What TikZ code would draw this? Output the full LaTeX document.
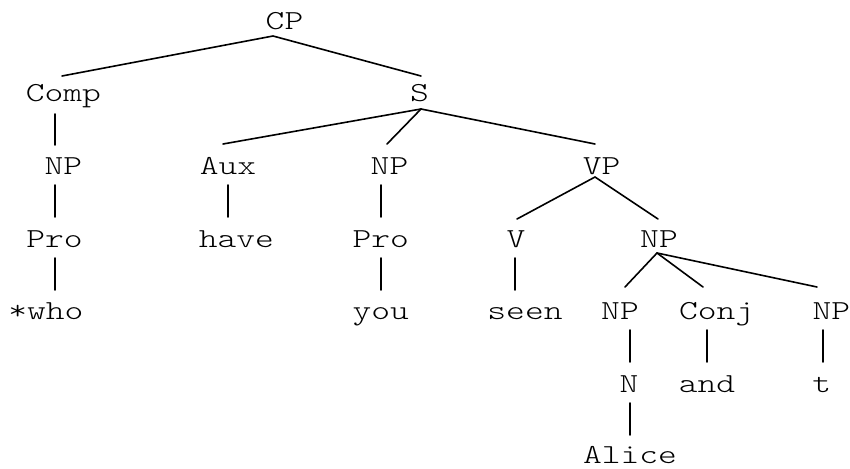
\documentclass[tikz,border=0pt]{standalone}
\usepackage{fontspec}
\setmonofont{lmmonolt10-regular.otf}[FakeStretch=1.3]
\begin{document}
\begin{tikzpicture}[x=1pt,y=-1pt,
  lbl/.style={anchor=base,inner sep=0pt,font=\ttfamily\fontsize{27.5}{27.5}\selectfont},
  edge/.style={line width=1.6pt,line cap=round}]
\useasboundingbox (0,0) rectangle (850,468);
% row baselines: 29.5, 102, 174.5, 247, 319.5, 392, 463.5
\node[lbl] (CP)    at (284.5,29.5) {CP};
\node[lbl] (Comp)  at (63.3,102) {Comp};
\node[lbl] (S)     at (419.5,102) {S};
\node[lbl] (NPa)   at (63.3,174.5) {NP};
\node[lbl] (Aux)   at (228,174.5) {Aux};
\node[lbl] (NPb)   at (389.5,174.5) {NP};
\node[lbl] (VP)    at (601.7,174.5) {VP};
\node[lbl] (Proa)  at (54.5,247) {Pro};
\node[lbl] (have)  at (236.3,247) {have};
\node[lbl] (Prob)  at (380.7,247) {Pro};
\node[lbl] (V)     at (516,247) {V};
\node[lbl] (NPc)   at (659,247) {NP};
\node[lbl] (who)   at (45.8,319.5) {*who};
\node[lbl] (you)   at (380.8,319.5) {you};
\node[lbl] (seen)  at (525,319.5) {seen};
\node[lbl] (NPd)   at (620,319.5) {NP};
\node[lbl] (Conj)  at (716.7,319.5) {Conj};
\node[lbl] (NPe)   at (831.3,319.5) {NP};
\node[lbl] (N)     at (629,392) {N};
\node[lbl] (and)   at (707,392) {and};
\node[lbl] (t)     at (821.7,392) {t};
\node[lbl] (Alice) at (630,463.5) {Alice};
% connector end points
\coordinate (CPb) at (273,36);
\coordinate (Compt) at (62,76);   \coordinate (St) at (421,76);
\coordinate (Compb) at (55,114);  \coordinate (NPat) at (55,145);
\coordinate (NPab) at (55,185);   \coordinate (Proat) at (55,217);
\coordinate (Proab) at (55,258);  \coordinate (whot) at (55,290);
\coordinate (Sb) at (421,109);
\coordinate (Auxt) at (223,144);  \coordinate (NPbt) at (387,144); \coordinate (VPt) at (595,144);
\coordinate (Auxb) at (228,185);  \coordinate (havet) at (228,217);
\coordinate (NPbb) at (381,185);  \coordinate (Probt) at (381,217);
\coordinate (Probb) at (381,258); \coordinate (yout) at (381,290);
\coordinate (VPb) at (595,177);
\coordinate (Vt) at (517,219);    \coordinate (NPct) at (658,219);
\coordinate (Vb) at (515,258);    \coordinate (seent) at (515,290);
\coordinate (NPcb) at (657,253);
\coordinate (NPdt) at (625,287);  \coordinate (Conjt) at (703,287); \coordinate (NPet) at (817,287);
\coordinate (NPdb) at (630,330);  \coordinate (Nt) at (630,362);
\coordinate (Conjb) at (707,330); \coordinate (andt) at (707,362);
\coordinate (NPeb) at (823,330);  \coordinate (tt) at (823,362);
\coordinate (Nb) at (630,403);    \coordinate (Alicet) at (630,435);
\draw[edge] (Compt) -- (CPb) -- (St);
\draw[edge] (Compb) -- (NPat);
\draw[edge] (NPab) -- (Proat);
\draw[edge] (Proab) -- (whot);
\draw[edge] (Sb) -- (Auxt);
\draw[edge] (Sb) -- (NPbt);
\draw[edge] (Sb) -- (VPt);
\draw[edge] (Auxb) -- (havet);
\draw[edge] (NPbb) -- (Probt);
\draw[edge] (Probb) -- (yout);
\draw[edge] (Vt) -- (VPb) -- (NPct);
\draw[edge] (Vb) -- (seent);
\draw[edge] (NPcb) -- (NPdt);
\draw[edge] (NPcb) -- (Conjt);
\draw[edge] (NPcb) -- (NPet);
\draw[edge] (NPdb) -- (Nt);
\draw[edge] (Conjb) -- (andt);
\draw[edge] (NPeb) -- (tt);
\draw[edge] (Nb) -- (Alicet);
\end{tikzpicture}
\end{document}
